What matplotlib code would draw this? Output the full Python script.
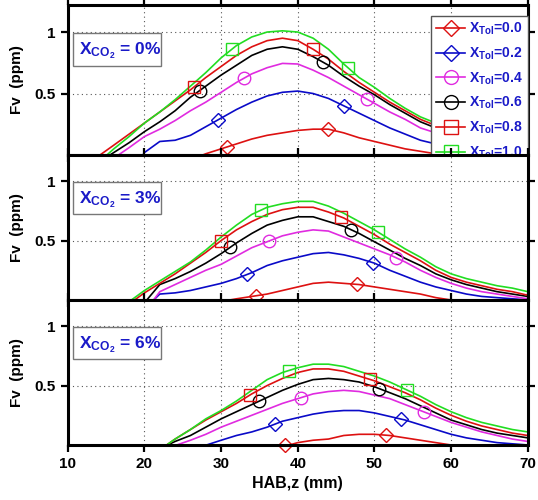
import numpy as np
import matplotlib.pyplot as plt
from matplotlib.patches import Rectangle

plt.rcParams['font.family'] = ['Liberation Sans', 'DejaVu Sans']
plt.rcParams['font.weight'] = 'bold'
plt.rcParams['mathtext.fontset'] = 'custom'
plt.rcParams['mathtext.rm'] = 'Liberation Sans:bold'
plt.rcParams['mathtext.bf'] = 'Liberation Sans:bold'
plt.rcParams['mathtext.it'] = 'Liberation Sans:bold'

n = np.nan
# HAB grid (mm)
hab = [12, 14, 16, 18, 20, 22, 24, 26, 28, 30, 32, 34, 36, 38, 40,
       42, 44, 46, 48, 50, 52, 54, 56, 58, 60, 62, 64, 66, 68, 70]

tol_labels = ['0.0', '0.2', '0.4', '0.6', '0.8', '1.0']
co2_labels = ['0%', '3%', '6%']

# X_CO2 = 0%
p1_start = [27.6, 19.8, 16.6, 15.5, 14.2, 15.1]
p1_tol00 = [n, n, n, n, n, n, n, n, 0.01, 0.05, 0.09, 0.13, 0.16, 0.18, 0.20, 0.21, 0.21, 0.18, 0.14, 0.11, 0.08, 0.05, 0.03, 0.01, 0.0, n, n, n, n, n]
p1_tol02 = [n, n, n, n, 0.02, 0.11, 0.12, 0.16, 0.23, 0.30, 0.37, 0.43, 0.48, 0.51, 0.52, 0.50, 0.46, 0.40, 0.34, 0.28, 0.22, 0.17, 0.12, 0.09, 0.06, 0.04, 0.03, 0.02, 0.01, 0.005]
p1_tol04 = [n, n, n, 0.06, 0.15, 0.21, 0.28, 0.36, 0.43, 0.51, 0.59, 0.66, 0.71, 0.745, 0.74, 0.69, 0.63, 0.56, 0.49, 0.42, 0.35, 0.29, 0.22, 0.18, 0.15, 0.12, 0.10, 0.08, 0.06, 0.05]
p1_tol06 = [n, n, 0.02, 0.10, 0.19, 0.27, 0.36, 0.47, 0.56, 0.65, 0.73, 0.81, 0.86, 0.88, 0.86, 0.80, 0.73, 0.64, 0.56, 0.49, 0.41, 0.34, 0.27, 0.22, 0.18, 0.15, 0.12, 0.10, 0.08, 0.06]
p1_tol08 = [n, n, 0.08, 0.17, 0.26, 0.35, 0.44, 0.53, 0.63, 0.72, 0.81, 0.88, 0.93, 0.95, 0.93, 0.86, 0.78, 0.68, 0.59, 0.51, 0.43, 0.36, 0.29, 0.24, 0.20, 0.16, 0.13, 0.11, 0.09, 0.07]
p1_tol10 = [n, n, 0.05, 0.15, 0.26, 0.35, 0.45, 0.56, 0.67, 0.79, 0.89, 0.96, 1.0, 1.01, 1.0, 0.95, 0.86, 0.74, 0.63, 0.55, 0.46, 0.38, 0.31, 0.26, 0.22, 0.18, 0.15, 0.12, 0.10, 0.08]
p1_marks = [[30.8, 44.0], [29.6, 46.0], [33.0, 49.0], [27.2, 43.3], [26.4, 42.0], [31.4, 46.6]]

# X_CO2 = 3%
p2_start = [31.1, 21.2, 21.2, 20.3, 18.7, 18.3]
p2_tol00 = [n, n, n, n, n, n, n, n, n, n, 0.01, 0.03, 0.05, 0.08, 0.11, 0.14, 0.15, 0.14, 0.13, 0.11, 0.09, 0.07, 0.05, 0.02, 0.0, n, n, n, n, n]
p2_tol02 = [n, n, n, n, n, 0.05, 0.06, 0.08, 0.11, 0.14, 0.18, 0.23, 0.29, 0.33, 0.36, 0.39, 0.40, 0.38, 0.35, 0.31, 0.25, 0.20, 0.15, 0.11, 0.08, 0.05, 0.03, 0.02, 0.01, 0.0]
p2_tol04 = [n, n, n, n, n, 0.07, 0.13, 0.19, 0.25, 0.30, 0.37, 0.44, 0.49, 0.54, 0.57, 0.59, 0.58, 0.53, 0.48, 0.43, 0.38, 0.32, 0.25, 0.19, 0.14, 0.10, 0.07, 0.05, 0.03, 0.01]
p2_tol06 = [n, n, n, n, n, 0.13, 0.18, 0.24, 0.31, 0.39, 0.48, 0.56, 0.63, 0.67, 0.70, 0.70, 0.66, 0.62, 0.56, 0.49, 0.42, 0.35, 0.29, 0.22, 0.17, 0.13, 0.10, 0.07, 0.05, 0.03]
p2_tol08 = [n, n, n, n, 0.06, 0.14, 0.22, 0.31, 0.40, 0.50, 0.59, 0.66, 0.72, 0.76, 0.78, 0.78, 0.74, 0.69, 0.62, 0.55, 0.47, 0.40, 0.33, 0.25, 0.19, 0.15, 0.12, 0.09, 0.07, 0.04]
p2_tol10 = [n, n, n, n, 0.08, 0.16, 0.24, 0.32, 0.42, 0.53, 0.63, 0.72, 0.78, 0.81, 0.83, 0.83, 0.79, 0.73, 0.66, 0.59, 0.51, 0.43, 0.36, 0.28, 0.22, 0.18, 0.15, 0.12, 0.10, 0.07]
p2_marks = [[34.6, 47.7], [33.4, 49.8], [36.3, 52.8], [31.2, 47.0], [30.0, 45.6], [35.2, 50.5]]

# X_CO2 = 6%
p3_start = [38.9, 28.1, 24.2, 23.0, 22.9, 22.9]
p3_tol00 = [n, n, n, n, n, n, n, n, n, n, n, n, n, n, 0.02, 0.04, 0.05, 0.08, 0.09, 0.09, 0.08, 0.06, 0.04, 0.02, 0.0, n, n, n, n, n]
p3_tol02 = [n, n, n, n, n, n, n, n, n, 0.04, 0.08, 0.11, 0.15, 0.20, 0.23, 0.26, 0.28, 0.29, 0.29, 0.27, 0.24, 0.21, 0.17, 0.13, 0.09, 0.06, 0.04, 0.02, 0.01, 0.0]
p3_tol04 = [n, n, n, n, n, n, n, 0.04, 0.09, 0.15, 0.20, 0.25, 0.30, 0.35, 0.39, 0.43, 0.45, 0.46, 0.45, 0.42, 0.39, 0.34, 0.29, 0.24, 0.19, 0.15, 0.11, 0.08, 0.05, 0.03]
p3_tol06 = [n, n, n, n, n, n, 0.03, 0.08, 0.15, 0.22, 0.28, 0.34, 0.40, 0.46, 0.51, 0.55, 0.56, 0.55, 0.53, 0.49, 0.44, 0.39, 0.33, 0.27, 0.21, 0.17, 0.13, 0.10, 0.08, 0.06]
p3_tol08 = [n, n, n, n, n, n, 0.05, 0.13, 0.21, 0.28, 0.35, 0.43, 0.50, 0.56, 0.61, 0.64, 0.64, 0.62, 0.58, 0.54, 0.49, 0.44, 0.38, 0.31, 0.25, 0.20, 0.16, 0.13, 0.10, 0.08]
p3_tol10 = [n, n, n, n, n, n, 0.05, 0.13, 0.22, 0.29, 0.37, 0.46, 0.55, 0.61, 0.65, 0.68, 0.68, 0.66, 0.62, 0.58, 0.53, 0.47, 0.41, 0.34, 0.28, 0.23, 0.19, 0.16, 0.13, 0.11]
p3_marks = [[38.3, 51.5], [37.0, 53.4], [40.4, 56.5], [35.0, 50.6], [33.8, 49.4], [38.8, 54.2]]

panels = [
    (p1_start, [p1_tol00, p1_tol02, p1_tol04, p1_tol06, p1_tol08, p1_tol10], p1_marks),
    (p2_start, [p2_tol00, p2_tol02, p2_tol04, p2_tol06, p2_tol08, p2_tol10], p2_marks),
    (p3_start, [p3_tol00, p3_tol02, p3_tol04, p3_tol06, p3_tol08, p3_tol10], p3_marks),
]

colors = ['#dd1111', '#0a0ac8', '#e02be0', 'black', '#dd1111', '#22dd22']
markers = ['D', 'D', 'o', 'o', 's', 's']
msizes = [7.5, 7.5, 9, 9, 8.5, 8.5]
blue_txt = '#1a1ac8'

fig = plt.figure(figsize=(5.38, 5.00), dpi=100)
boxes = [[0.126, 0.690, 0.855, 0.300],
         [0.126, 0.400, 0.855, 0.290],
         [0.126, 0.110, 0.855, 0.290]]

axes = []
for k, (starts, rows, marks) in enumerate(panels):
    ax = fig.add_axes(boxes[k])
    ax.set_facecolor('white')
    for i in range(6):
        y = np.array(rows[i], dtype=float)
        x = np.array(hab, dtype=float)
        ok = ~np.isnan(y)
        xs = np.concatenate([[starts[i]], x[ok]])
        ys = np.concatenate([[0.0], y[ok]])
        ax.plot(xs, ys, color=colors[i], lw=1.2, zorder=3)
        mx = np.array(marks[i])
        my = np.interp(mx, xs, ys, left=0.0, right=0.0)
        ax.plot(mx, my, ls='none', marker=markers[i], ms=msizes[i], mfc='none',
                mec=colors[i], mew=1.0, zorder=4, clip_on=False)
    ax.set_xlim(10, 70)
    ax.set_ylim(0, 1.22)
    ax.set_xticks([10, 20, 30, 40, 50, 60, 70])
    ax.set_yticks([0.5, 1])
    ax.set_yticklabels(['0.5', '1'])
    ax.grid(True, color='#555555', ls=(0, (1, 3)), lw=0.8)
    ax.tick_params(direction='out', length=5, width=1.6, top=True, right=True,
                   labelsize=11)
    for sp in ax.spines.values():
        sp.set_linewidth(2.2)
        sp.set_zorder(5)
    ax.set_ylabel('Fv  (ppm)', fontsize=11, fontweight='bold', labelpad=8)
    ax.add_patch(Rectangle((10.65, 0.725), 11.45, 0.265, fc='white', ec='#777777',
                           lw=1, zorder=6))
    ax.text(11.45, 0.815, r'$\mathbf{X_{CO_2}}$ = ' + co2_labels[k], color=blue_txt,
            fontsize=12.5, fontweight='bold', va='baseline', ha='left', zorder=7)
    if k < 2:
        ax.tick_params(labelbottom=False)
    axes.append(ax)

handles = []
for i in range(6):
    h, = axes[0].plot([], [], color=colors[i], lw=1.2, marker=markers[i],
                      ms=msizes[i] + 1, mfc='none', mec=colors[i])
    handles.append(h)
leg = axes[0].legend(handles, [r'$\mathbf{X_{Tol}}$=' + t for t in tol_labels],
                     loc='upper right', bbox_to_anchor=(1.0, 0.927), borderaxespad=0,
                     fancybox=False, edgecolor='#555555', framealpha=1, fontsize=10,
                     handlelength=2.1, handletextpad=0.3, labelspacing=0.6,
                     borderpad=0.35, labelcolor=blue_txt)
leg.get_frame().set_linewidth(1.0)

axes[2].set_xlabel('HAB,z (mm)', fontsize=11.5, fontweight='bold')

fig.savefig('out.png', dpi=100)
